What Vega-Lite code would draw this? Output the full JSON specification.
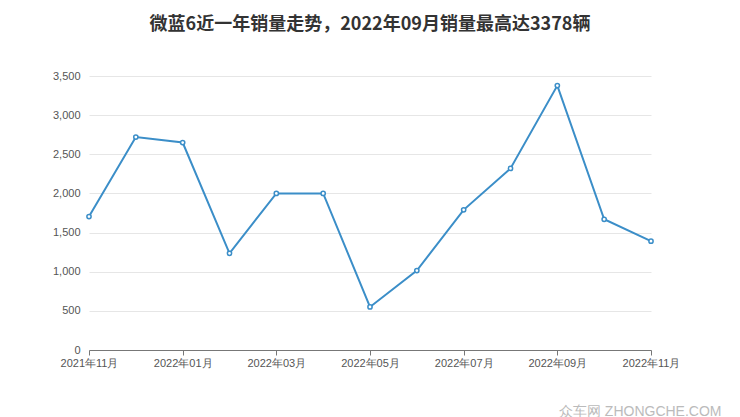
{
  "$schema": "https://vega.github.io/schema/vega-lite/v6.json",
  "autosize": "none",
  "width": 562,
  "height": 274,
  "padding": {"left": 89, "top": 76, "right": 89, "bottom": 67},
  "background": "white",
  "config": {"view": {"stroke": null}},
  "title": {
    "text": "微蓝6近一年销量走势，2022年09月销量最高达3378辆",
    "fontSize": 18,
    "fontWeight": "bold",
    "font": "Noto Sans CJK SC",
    "color": "#333333",
    "anchor": "middle",
    "offset": 36
  },
  "data": {
    "values": [
      {"month": "2021年11月", "sales": 1705},
      {"month": "2021年12月", "sales": 2720},
      {"month": "2022年01月", "sales": 2650},
      {"month": "2022年02月", "sales": 1235},
      {"month": "2022年03月", "sales": 2000},
      {"month": "2022年04月", "sales": 2000},
      {"month": "2022年05月", "sales": 550},
      {"month": "2022年06月", "sales": 1015},
      {"month": "2022年07月", "sales": 1790},
      {"month": "2022年08月", "sales": 2320},
      {"month": "2022年09月", "sales": 3378},
      {"month": "2022年10月", "sales": 1670},
      {"month": "2022年11月", "sales": 1390}
    ]
  },
  "encoding": {
    "x": {
      "field": "month",
      "type": "ordinal",
      "sort": null,
      "scale": {"type": "point", "padding": 0},
      "axis": {
        "values": ["2021年11月", "2022年01月", "2022年03月", "2022年05月", "2022年07月", "2022年09月", "2022年11月"],
        "labelAngle": 0,
        "labelFont": "Liberation Sans",
        "labelFontSize": 11,
        "labelColor": "#555555",
        "labelPadding": 2,
        "tickSize": 5,
        "tickColor": "#777777",
        "domainColor": "#777777",
        "grid": false,
        "title": "众车网  ZHONGCHE.COM",
        "titleFont": "Liberation Sans",
        "titleFontSize": 14,
        "titleFontWeight": "normal",
        "titleColor": "#bbbbbb",
        "titleAlign": "right",
        "titleX": 632,
        "titleY": 54
      }
    },
    "y": {
      "field": "sales",
      "type": "quantitative",
      "scale": {"domain": [0, 3500]},
      "axis": {
        "values": [0, 500, 1000, 1500, 2000, 2500, 3000, 3500],
        "format": ",d",
        "domain": false,
        "ticks": false,
        "labelPadding": 9,
        "labelFont": "Liberation Sans",
        "labelFontSize": 11,
        "labelColor": "#555555",
        "gridColor": "#e6e6e6",
        "title": null
      }
    }
  },
  "layer": [
    {
      "mark": {"type": "line", "color": "#3b8ec8", "strokeWidth": 2}
    },
    {
      "mark": {"type": "point", "shape": "circle", "filled": true, "fill": "white", "stroke": "#3b8ec8", "strokeWidth": 1.5, "size": 18, "opacity": 1}
    }
  ]
}
